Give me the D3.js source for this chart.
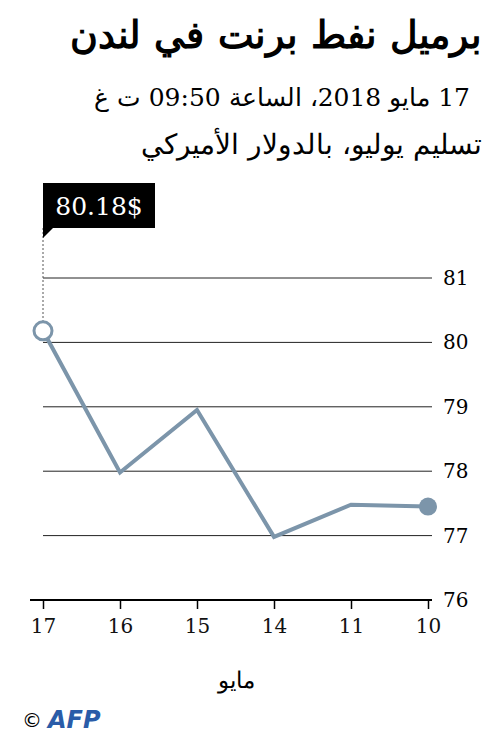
<!DOCTYPE html>
<html><head><meta charset="utf-8">
<script src="https://cdn.jsdelivr.net/npm/d3@7"></script>
<style>body{margin:0;background:#fff}</style>
</head><body><div id="chart"></div>
<script>
// data
const days = ["17", "16", "15", "14", "11", "10"]
const prices = [80.18, 77.98, 78.95, 76.98, 77.48, 77.45]
const yTicks = [76, 77, 78, 79, 80, 81]

const W = 500, H = 737
const svg = d3.select("#chart").append("svg").attr("width", W).attr("height", H)
const font = "'DejaVu Serif', 'Noto Sans', serif"

// titles (rtl: anchor "start" sits on the right edge)
function rtlText(xx, yy, size, bold, txt) {
  svg.append("text").attr("x", xx).attr("y", yy).attr("text-anchor", "start").attr("direction", "rtl")
    .style("font-family", font).style("font-weight", bold ? "bold" : "normal").style("font-size", size + "px")
    .text(txt)
}
rtlText(482, 48, 38, true, "برميل نفط برنت في لندن")
rtlText(470, 106, 25, false, "17 مايو 2018، الساعة 09:50 ت غ")
rtlText(482, 154, 28, false, "تسليم يوليو، بالدولار الأميركي")

const x = d3.scalePoint().domain(days).range([43, 428])
const y = d3.scaleLinear().domain([76, 81]).range([600, 278])

// grid
svg.append("g").selectAll("line").data(yTicks.filter(d => d > 76)).join("line")
  .attr("x1", 43).attr("x2", 432).attr("y1", d => y(d)).attr("y2", d => y(d))
  .attr("stroke", "#222").attr("stroke-width", 1)
svg.append("g").selectAll("text").data(yTicks).join("text")
  .attr("x", 443).attr("y", d => y(d) + 7).style("font-family", font).style("font-size", "20px")
  .text(d => d)

// x axis
const xa = svg.append("g").attr("transform", "translate(0,600)")
  .call(d3.axisBottom(x).tickSize(9).tickPadding(10))
xa.select(".domain").attr("d", "M30,0H432").attr("stroke-width", 2)
xa.selectAll(".tick line").attr("stroke-width", 1.5)
xa.selectAll("text").style("font-family", font).style("font-size", "20px").attr("fill", "#111")
svg.append("text").attr("x", 236).attr("y", 688).attr("text-anchor", "middle")
  .style("font-family", font).style("font-size", "23px").text("مايو")

// line
svg.append("path").datum(prices).attr("fill", "none").attr("stroke", "#7c95aa").attr("stroke-width", 4)
  .attr("d", d3.line().x((d, i) => x(days[i])).y(d => y(d)))

// callout
svg.append("line").attr("x1", x(days[0])).attr("x2", x(days[0])).attr("y1", 228).attr("y2", y(prices[0]) - 10)
  .attr("stroke", "#555").attr("stroke-dasharray", "2,2")
svg.append("rect").attr("x", 43).attr("y", 183).attr("width", 112).attr("height", 45).attr("fill", "#000")
svg.append("path").attr("d", "M43,228L53,228L43,238Z").attr("fill", "#000")
svg.append("text").attr("x", 99).attr("y", 215).attr("text-anchor", "middle").attr("fill", "#fff")
  .style("font-family", font).style("font-size", "25px").text("80.18$")

svg.append("circle").attr("cx", x(days[0])).attr("cy", y(prices[0])).attr("r", 9)
  .attr("fill", "#fff").attr("stroke", "#7c95aa").attr("stroke-width", 3)
svg.append("circle").attr("cx", x(days[5])).attr("cy", y(prices[5])).attr("r", 9).attr("fill", "#7c95aa")

// logo
svg.append("text").attr("x", 22).attr("y", 727).style("font-family", "'DejaVu Sans'").style("font-size", "20px").text("©")
svg.append("text").attr("x", 48).attr("y", 728).style("font-family", "'DejaVu Sans'").style("font-weight", "bold")
  .style("font-style", "italic").style("font-size", "24px").attr("fill", "#2a5ca8").text("AFP")
</script>
</body></html>
